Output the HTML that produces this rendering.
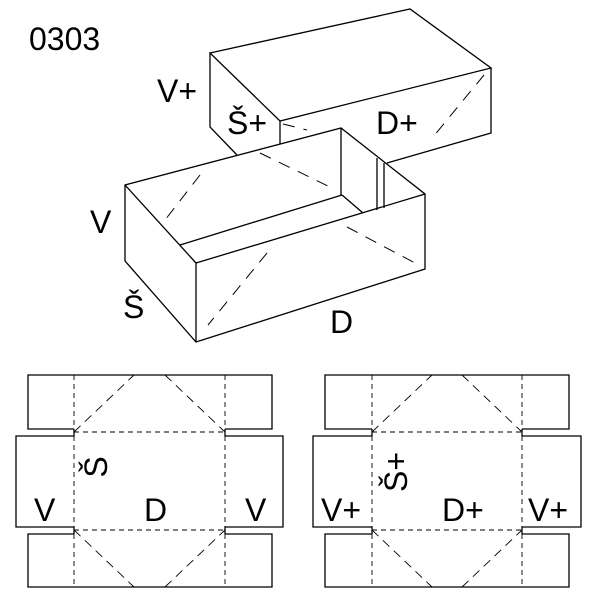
<!DOCTYPE html>
<html><head><style>html,body{margin:0;padding:0;background:#fff}svg{display:block}</style></head>
<body>
<svg width="600" height="600" viewBox="0 0 600 600" xmlns="http://www.w3.org/2000/svg" font-family="Liberation Sans, sans-serif" font-size="32">
<g fill="none" stroke="#000" stroke-width="1.3" stroke-linejoin="miter">
<!-- lid -->
<polygon points="210,53 410,9 491,68 280,121" fill="#fff"/>
<polyline points="491,68 491,133 387,163"/>
<polyline points="210,53 210,127 237,155"/>
<line x1="280" y1="121" x2="280" y2="150"/>
<g stroke-dasharray="12,9" stroke-width="1"><line x1="484" y1="75" x2="433" y2="137"/><line x1="283" y1="124" x2="307" y2="130"/></g>
<!-- base -->
<polygon points="125,185 341,128 425,194 425,269 196,342 125,261" fill="#fff"/>
<line x1="125" y1="185" x2="196" y2="263"/>
<line x1="196" y1="263" x2="425" y2="194"/>
<line x1="196" y1="263" x2="196" y2="342"/>
<line x1="180" y1="245" x2="342" y2="195"/>
<line x1="341" y1="128" x2="341" y2="195"/>
<line x1="342" y1="195" x2="363" y2="213"/>
<line x1="377" y1="158" x2="377" y2="210"/>
<line x1="384" y1="163" x2="384" y2="208"/>
<g stroke-dasharray="12,9" stroke-width="1">
<line x1="260" y1="153" x2="332" y2="188"/>
<line x1="200" y1="175" x2="165" y2="220"/>
<line x1="267" y1="253" x2="208" y2="325"/>
<line x1="347" y1="227" x2="415" y2="263"/>
</g>
<!-- left net -->
<polyline points="74,429 28,429 28,375 272,375 272,429 225,429"/>
<polyline points="74,534 28,534 28,587 272,587 272,534 225,534"/>
<polyline points="74,429 74,436 16,436 16,527 74,527 74,534"/>
<polyline points="225,429 225,436 283,436 283,527 225,527 225,534"/>
<g stroke-dasharray="5,4" stroke-width="0.9">
<line x1="74" y1="375" x2="74" y2="429"/><line x1="225" y1="375" x2="225" y2="429"/>
<line x1="74" y1="436" x2="74" y2="527"/><line x1="225" y1="436" x2="225" y2="527"/>
<line x1="74" y1="534" x2="74" y2="587"/><line x1="225" y1="534" x2="225" y2="587"/>
<line x1="74" y1="432" x2="225" y2="432"/><line x1="74" y1="530" x2="225" y2="530"/>
</g>
<g stroke-dasharray="9,6" stroke-width="0.9">
<line x1="74" y1="432" x2="134" y2="375"/><line x1="165" y1="375" x2="225" y2="432"/>
<line x1="74" y1="530" x2="134" y2="587"/><line x1="165" y1="587" x2="225" y2="530"/>
</g>
<!-- right net -->
<polyline points="372,429 325,429 325,375 569,375 569,429 522,429"/>
<polyline points="372,534 325,534 325,587 569,587 569,534 522,534"/>
<polyline points="372,429 372,436 313,436 313,527 372,527 372,534"/>
<polyline points="522,429 522,436 581,436 581,527 522,527 522,534"/>
<g stroke-dasharray="5,4" stroke-width="0.9">
<line x1="372" y1="375" x2="372" y2="429"/><line x1="522" y1="375" x2="522" y2="429"/>
<line x1="372" y1="436" x2="372" y2="527"/><line x1="522" y1="436" x2="522" y2="527"/>
<line x1="372" y1="534" x2="372" y2="587"/><line x1="522" y1="534" x2="522" y2="587"/>
<line x1="372" y1="432" x2="522" y2="432"/><line x1="372" y1="530" x2="522" y2="530"/>
</g>
<g stroke-dasharray="9,6" stroke-width="0.9">
<line x1="372" y1="432" x2="432" y2="375"/><line x1="462" y1="375" x2="522" y2="432"/>
<line x1="372" y1="530" x2="432" y2="587"/><line x1="462" y1="587" x2="522" y2="530"/>
</g>
</g>
<g fill="#000">
<text x="29" y="50">0303</text>
<text x="157" y="102">V+</text>
<text x="227" y="134">Š+</text>
<text x="376" y="134">D+</text>
<text x="90" y="233">V</text>
<text x="123" y="318">Š</text>
<text x="330" y="333">D</text>
<text x="34" y="521">V</text>
<text x="144" y="521">D</text>
<text x="245" y="521">V</text>
<text transform="translate(107,467) rotate(-90)" text-anchor="middle">Š</text>
<text x="321" y="521">V+</text>
<text x="442" y="521">D+</text>
<text x="528" y="521">V+</text>
<text transform="translate(407,472) rotate(-90)" text-anchor="middle">Š+</text>
</g>
</svg>
</body></html>
